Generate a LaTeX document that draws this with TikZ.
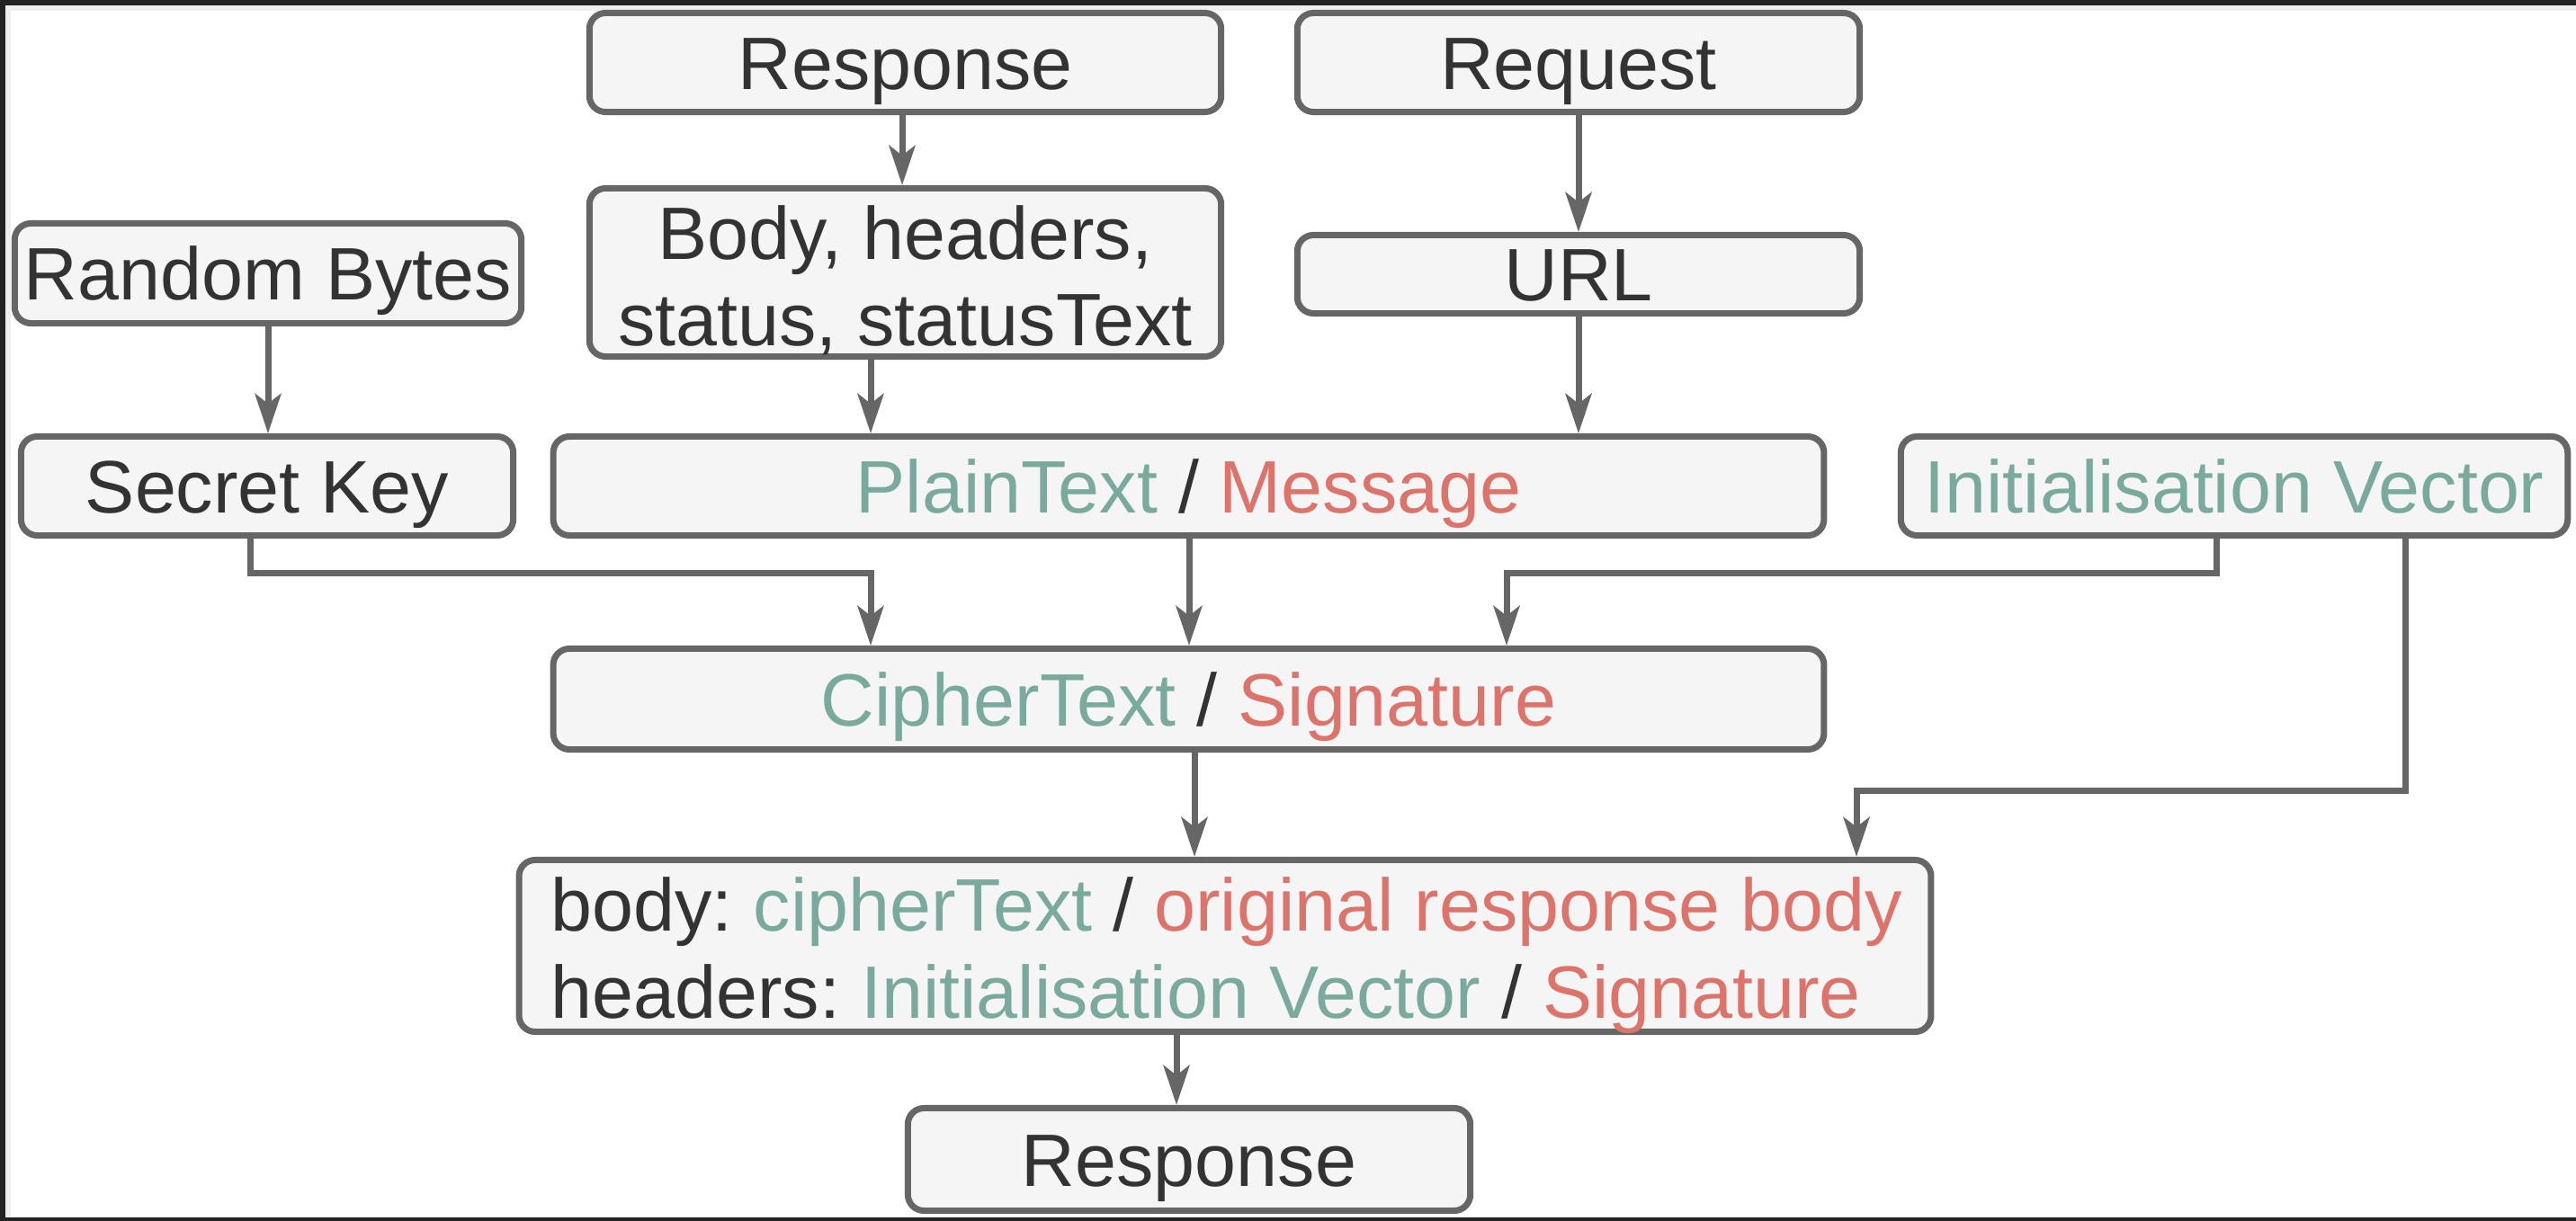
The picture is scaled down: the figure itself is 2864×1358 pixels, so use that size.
\documentclass[tikz,border=0pt]{standalone}
\usepackage{fontspec}
\setmainfont{Liberation Sans}
\frenchspacing
\usetikzlibrary{arrows.meta,calc}
\definecolor{boxfill}{HTML}{F5F5F5}
\definecolor{boxline}{HTML}{666666}
\definecolor{txt}{HTML}{333333}
\definecolor{tgreen}{HTML}{7AAA9E}
\definecolor{tred}{HTML}{DC746C}
\definecolor{framedark}{HTML}{222222}
\definecolor{framelight}{HTML}{EEEEEE}
\begin{document}
\begin{tikzpicture}[x=0.01cm,y=-0.01cm,
  fnt/.style={text=txt,font=\fontsize{23.5}{27.5}\selectfont},
  box/.style={draw=boxline,fill=boxfill,line width=0.07cm,rounded corners=0.18cm,
    fnt,inner sep=0pt,align=center,text height=16.8pt,text depth=0pt},
  emptybox/.style={draw=boxline,fill=boxfill,line width=0.07cm,rounded corners=0.18cm,inner sep=0pt},
  lbl/.style={fnt,inner sep=0pt,anchor=base},
  arr/.style={draw=boxline,line width=0.07cm,
    -{Stealth[length=0.44cm,width=0.29cm,inset=0.11cm]}}]
\useasboundingbox (0,0) rectangle (2864,1358);
\fill[white] (0,0) rectangle (2864,1358);
% frame
\fill[framelight] (6,6) rectangle (2864,12);
\fill[framelight] (6,6) rectangle (12,1354);
\fill[framedark] (0,0) rectangle (2864,6);
\fill[framedark] (0,0) rectangle (6,1358);
\fill[framedark] (0,1354) rectangle (2864,1358);
% nodes
\node[box,minimum width=7.02cm,minimum height=1.10cm] (resp1) at (1006.5,69.5) {Response};
\node[box,minimum width=6.25cm,minimum height=1.10cm] (req) at (1755,69.5) {Request};
\node[emptybox,minimum width=7.02cm,minimum height=1.87cm] (bodyh) at (1006.5,303) {};
\node[lbl,align=center] (bodyhtext) at (1006.5,385) {Body, headers,\\status, statusText};
\node[box,minimum width=6.25cm,minimum height=0.87cm] (url) at (1755,305) {URL};
\node[box,minimum width=5.63cm,minimum height=1.11cm] (rand) at (298,304) {Random Bytes};
\node[box,minimum width=5.47cm,minimum height=1.10cm] (key) at (297,540.5) {Secret Key};
\node[box,minimum width=14.12cm,minimum height=1.10cm] (plain) at (1321.5,540.5) {\textcolor{tgreen}{PlainText} / \textcolor{tred}{Message}};
\node[box,minimum width=7.41cm,minimum height=1.10cm] (iv) at (2484,540.5) {\textcolor{tgreen}{Initialisation Vector}};
\node[box,minimum width=14.12cm,minimum height=1.12cm] (cipher) at (1321.5,777.5) {\textcolor{tgreen}{CipherText} / \textcolor{tred}{Signature}};
\node[emptybox,minimum width=15.69cm,minimum height=1.91cm] (out) at (1362,1052) {};
\node[lbl,anchor=base west,align=left] (outtext) at (612,1132) {body: \textcolor{tgreen}{cipherText} / \textcolor{tred}{original response body}\\headers: \textcolor{tgreen}{Initialisation Vector} / \textcolor{tred}{Signature}};
\node[box,minimum width=6.25cm,minimum height=1.14cm] (resp2) at (1322,1289.5) {Response};
% helper coordinates
\coordinate (xa) at (968,0);
\coordinate (xb) at (278,0);
\coordinate (xc) at (2464,0);
\coordinate (xd) at (1675,0);
\coordinate (xe) at (2674,0);
\coordinate (xf) at (2064,0);
\coordinate (xg) at (1328,0);
\coordinate (xh) at (1308,0);
\coordinate (xi) at (1003,0);
\coordinate (xj) at (1322,0);
\coordinate (ya) at (0,637);
\coordinate (yb) at (0,879);
% connectors
\draw[arr] (resp1.south -| xi) -- (bodyh.north -| xi);
\draw[arr] (req.south) -- (url.north);
\draw[arr] (rand.south) -- (key.north -| rand.south);
\draw[arr] (bodyh.south -| xa) -- (plain.north -| xa);
\draw[arr] (url.south) -- (plain.north -| url.south);
\draw[arr] (key.south -| xb) -- (xb |- ya) -- (xa |- ya) -- (cipher.north -| xa);
\draw[arr] (plain.south -| xj) -- (cipher.north -| xj);
\draw[arr] (iv.south -| xc) -- (xc |- ya) -- (xd |- ya) -- (cipher.north -| xd);
\draw[arr] (cipher.south -| xg) -- (out.north -| xg);
\draw[arr] (iv.south -| xe) -- (xe |- yb) -- (xf |- yb) -- (out.north -| xf);
\draw[arr] (out.south -| xh) -- (resp2.north -| xh);
\end{tikzpicture}
\end{document}
